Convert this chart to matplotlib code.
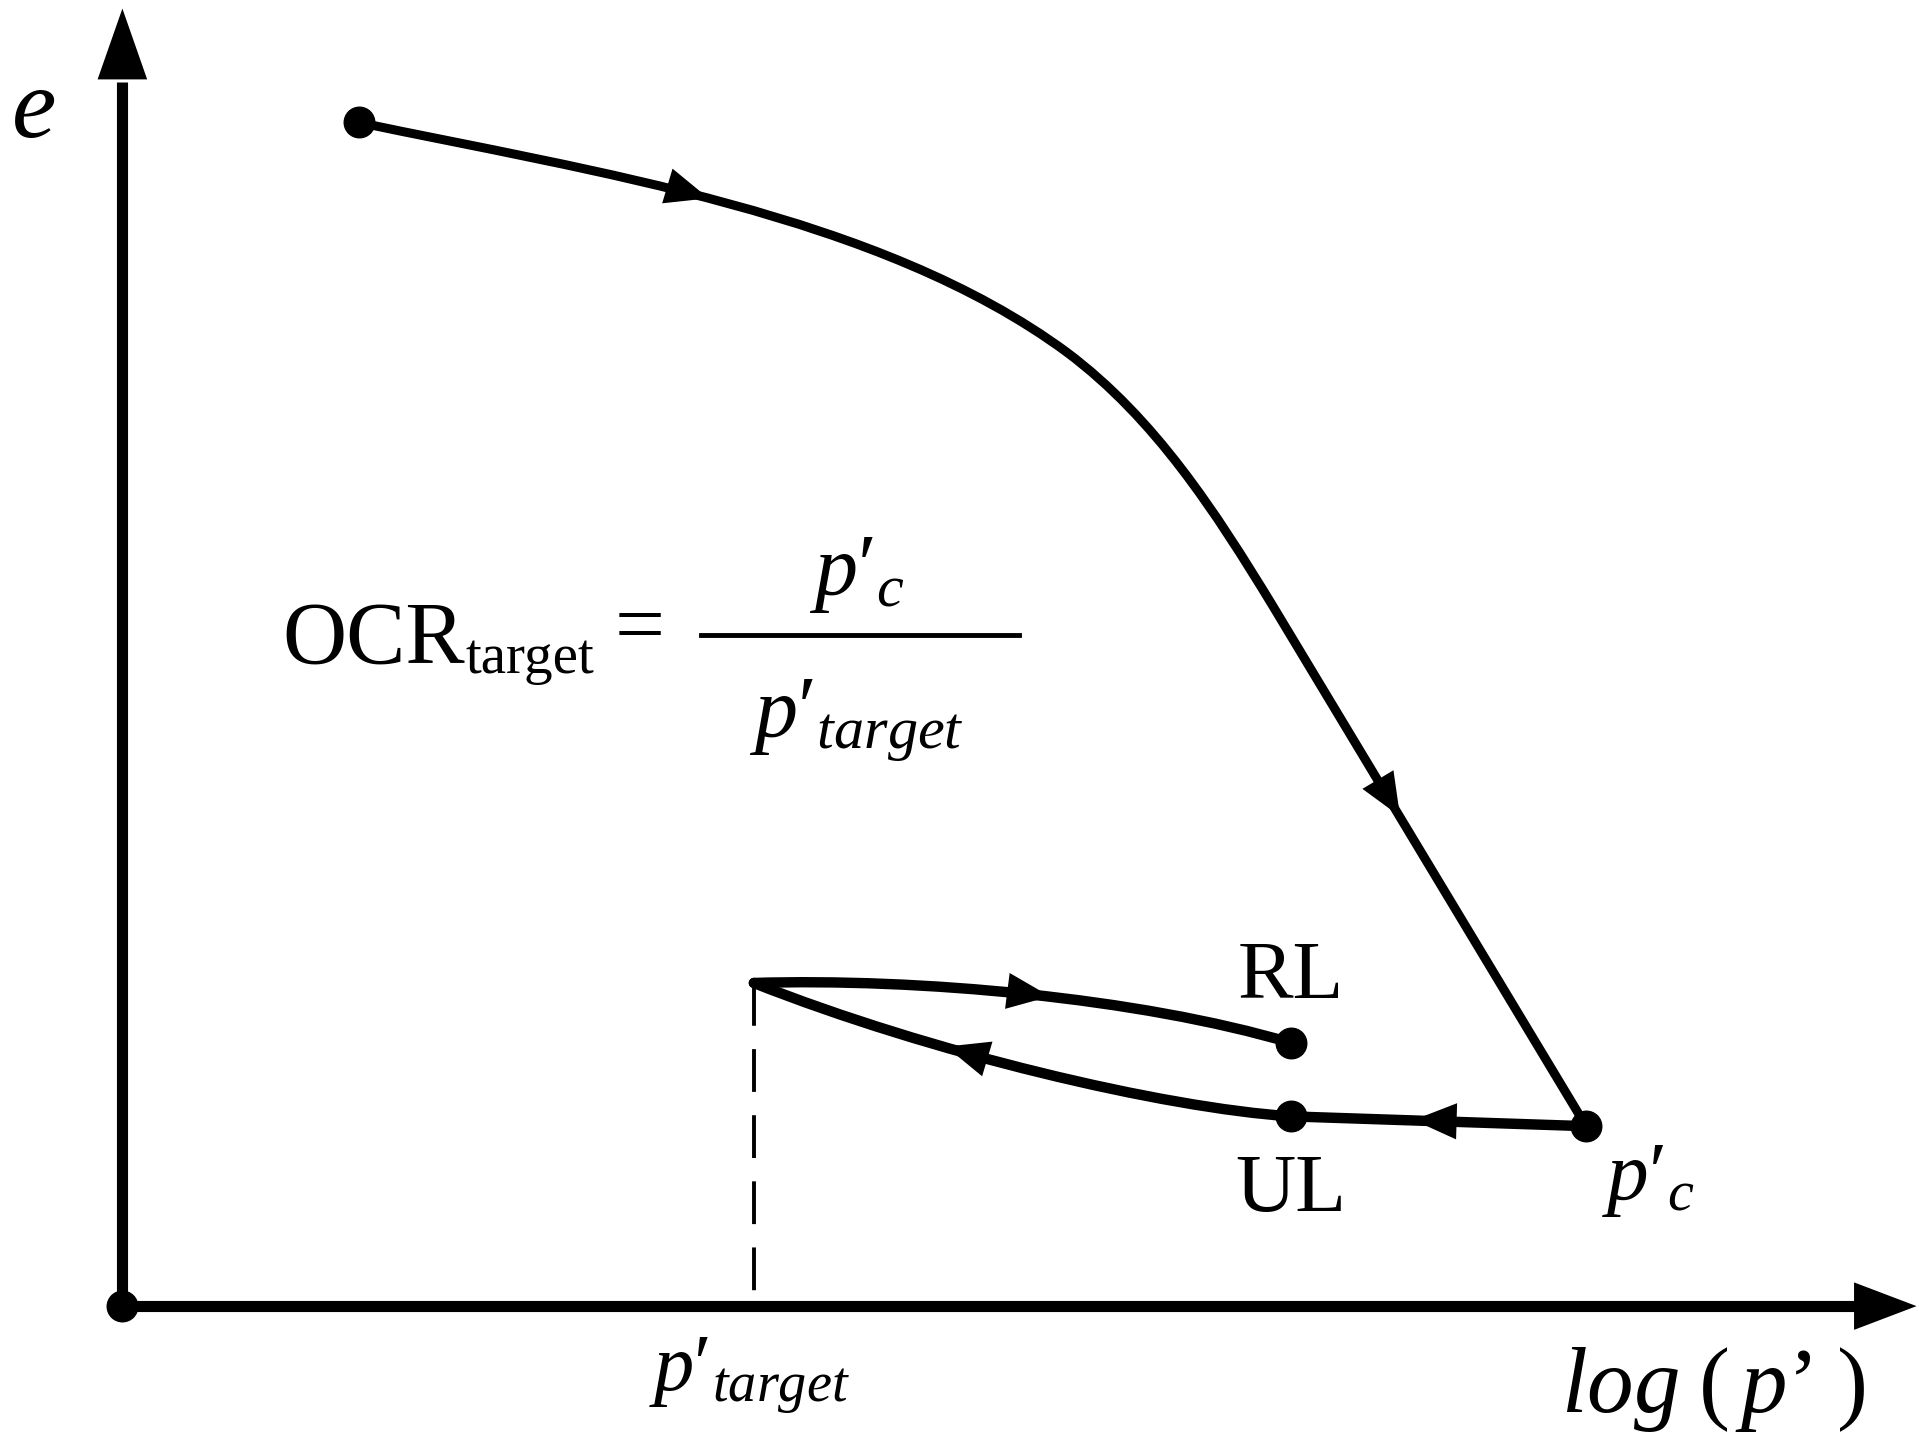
import matplotlib.pyplot as plt
from matplotlib.path import Path
import matplotlib.patches as mpatches

plt.rcParams['font.family'] = 'Liberation Serif'
plt.rcParams['mathtext.fontset'] = 'custom'
plt.rcParams['mathtext.rm'] = 'Liberation Serif'
plt.rcParams['mathtext.it'] = 'Liberation Serif:italic'

# virgin compression line, from the initial state down to p'c
loading_pts = [(293, 100), (483, 140), (719, 175), (872, 288),
               (944, 342), (993, 418), (1040, 495), (1296, 920)]
loading_codes = [Path.MOVETO, Path.CURVE4, Path.CURVE4, Path.CURVE4,
                 Path.CURVE4, Path.CURVE4, Path.CURVE4, Path.LINETO]

# unloading from p'c to p'target
unloading_pts = [(1296, 920), (1055, 912), (950, 905), (760, 860), (616, 803)]
unloading_codes = [Path.MOVETO, Path.LINETO, Path.CURVE4, Path.CURVE4, Path.CURVE4]

# reloading from p'target
reloading_pts = [(616, 803), (750, 799), (930, 815), (1055, 852)]
reloading_codes = [Path.MOVETO, Path.CURVE4, Path.CURVE4, Path.CURVE4]

# origin, start, p'c, UL, RL
state_x = [100, 293, 1296, 1055, 1055]
state_y = [1067, 100, 920, 912, 852]

# direction heads on the paths: (tail, tip)
heads = [
    ((512, 142), (579, 162)),
    ((1108, 607), (1144, 667)),
    ((1225, 917), (1155, 915)),
    ((840, 875), (773, 855)),
    ((788, 805), (858, 814)),
]

origin = (100, 1067)
x_end = 1566
y_end = 7
p_target_x = 616

fig = plt.figure(figsize=(19.19, 14.42), dpi=100)
ax = fig.add_axes([0, 0, 1, 1])
ax.set_xlim(0, 1568)
ax.set_ylim(1178, 0)
ax.axis('off')

# axes with arrow heads
ax.plot([origin[0], origin[0]], [origin[1], y_end + 60], color='k', lw=8, solid_capstyle='butt')
ax.plot([origin[0], x_end - 50], [origin[1], origin[1]], color='k', lw=8, solid_capstyle='butt')
ax.annotate('', xy=(origin[0], y_end), xytext=(origin[0], y_end + 150),
            arrowprops=dict(arrowstyle='-|>,head_length=1,head_width=0.35',
                            mutation_scale=51, fc='k', ec='k', lw=0,
                            shrinkA=0, shrinkB=0))
ax.annotate('', xy=(x_end, origin[1]), xytext=(x_end - 150, origin[1]),
            arrowprops=dict(arrowstyle='-|>,head_length=1,head_width=0.38',
                            mutation_scale=45, fc='k', ec='k', lw=0,
                            shrinkA=0, shrinkB=0))

# dashed drop line at p'target
ax.plot([p_target_x, p_target_x], [reloading_pts[0][1], origin[1]], color='k',
        lw=2.8, linestyle=(0, (11, 6)))

for pts, codes, lw in [(loading_pts, loading_codes, 6.5),
                       (unloading_pts, unloading_codes, 7.5),
                       (reloading_pts, reloading_codes, 7.5)]:
    ax.add_patch(mpatches.PathPatch(Path(pts, codes), fill=False, ec='k', lw=lw,
                                    capstyle='round', joinstyle='round'))

for tail, tip in heads:
    ax.annotate('', xy=tip, xytext=tail,
                arrowprops=dict(arrowstyle='-|>,head_length=1,head_width=0.42',
                                mutation_scale=31, fc='k', ec='k', lw=0,
                                shrinkA=0, shrinkB=0))

ax.plot(state_x, state_y, 'o', color='k', ms=22, ls='none', zorder=5)

# labels
ax.text(28, 92, 'e', fontsize=72, style='italic', ha='center', va='center')
ax.text(1400, 1135, "$log\\;(\\,p\u2019\\;)$", fontsize=67, ha='center', va='center')
ax.text(612, 1124, "$p\u2032_{target}$", fontsize=58, ha='center', va='center')
ax.text(1309, 965, "$p\u2032_{c}$", fontsize=60, ha='left', va='center')
ax.text(1055, 799, 'RL', fontsize=60, ha='center', va='center')
ax.text(1055, 973, 'UL', fontsize=60, ha='center', va='center')

# OCR definition
ax.text(231, 541, 'OCR', fontsize=64, ha='left', va='baseline')
ax.text(380, 550, 'target', fontsize=41, ha='left', va='baseline')
ax.text(523, 516, '=', fontsize=64, ha='center', va='center')
ax.plot([573, 833], [519, 519], color='k', lw=3.5)
ax.text(700, 470, "$p\u2032_{c}$", fontsize=62, ha='center', va='center')
ax.text(700, 588, "$p\u2032_{target}$", fontsize=62, ha='center', va='center')

fig.savefig('out.png', dpi=100)
